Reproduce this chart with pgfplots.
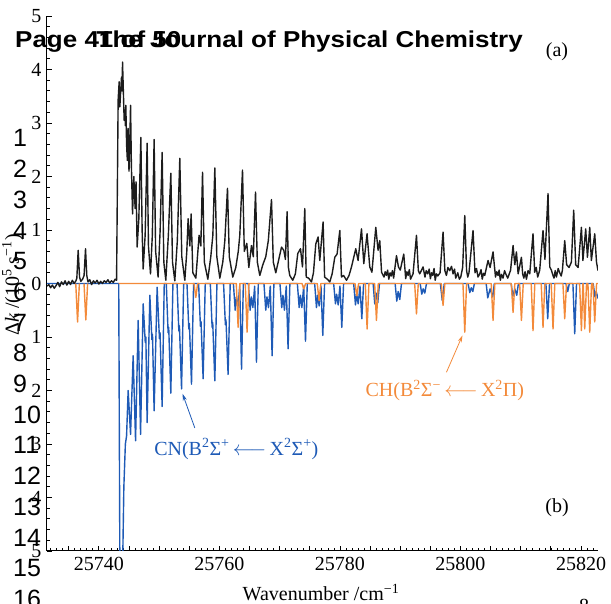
\documentclass[border=0pt]{standalone}
\usepackage{fontspec}
\setmainfont{Liberation Serif}
\newfontfamily\headfont{Liberation Sans}[FakeStretch=1.13]
\newfontfamily\numfont{Liberation Sans}
\usepackage{pgfplots}
\pgfplotsset{compat=1.18}
\usetikzlibrary{arrows.meta}

\definecolor{cnblue}{RGB}{30,90,182}
\definecolor{chorange}{RGB}{243,138,58}
\definecolor{expblack}{RGB}{28,28,28}

\begin{document}
\begin{tikzpicture}[x=1pt,y=1pt]
\useasboundingbox (0,0) rectangle (611,604);
\begin{axis}[
  at={(47pt,53pt)}, anchor=south west,
  scale only axis, width=551pt, height=535pt,
  xmin=25731.4, xmax=25822.8, ymin=-5, ymax=5,
  axis x line*=bottom, axis y line*=left,
  axis line style={line width=1pt, black, -},
  every tick/.style={black, line width=0.8pt},
  tick align=inside,
  scaled x ticks=false,
  xtick={25735,25740,...,25820},
  xticklabels={,25740,,,,25760,,,,25780,,,,25800,,,,25820},
  minor xtick={25732,25733,...,25822},
  ytick={-5,-4,...,5},
  yticklabels={5,4,3,2,1,0,1,2,3,4,5},
  minor y tick num=4,
  major tick length=5pt, minor tick length=3pt,
  tick label style={font=\fontsize{20}{20}\selectfont},
  xticklabel style={yshift=-3pt},
  yticklabel style={xshift=-2pt},
  no markers,
]
% CN(B-X) simulation, drawn downward
\addplot[cnblue, line width=1.4pt, line join=round] coordinates {
(25731.4,0) (25743.3,0) (25743.5,-5.6) (25743.9,-5.6) (25744.15,-3.8) (25744.4,-3.0)
(25744.6,-2.85) (25744.86,-2.0) (25745.26,-2.82) (25745.69,-1.35) (25746.09,-2.94)
(25746.52,-0.69) (25746.92,-2.82) (25747.35,-0.38) (25747.7,-1.1) (25747.8,-1.0)
(25748.01,-2.60) (25748.46,-0.22) (25748.8,-1.05) (25748.9,-0.95) (25749.17,-2.38)
(25749.67,-0.07) (25750.05,-1.03) (25750.15,-0.92) (25750.50,-2.30) (25750.85,0)
(25751.19,0) (25751.49,-0.92) (25751.59,-0.82) (25751.94,-2.05) (25752.29,0)
(25752.97,0) (25753.27,-0.89) (25753.37,-0.79) (25753.72,-1.97) (25754.07,0)
(25754.62,0) (25754.92,-0.85) (25755.02,-0.75) (25755.37,-1.88) (25755.72,0)
(25756.55,0) (25756.85,-0.80) (25756.95,-0.71) (25757.30,-1.78) (25757.65,0)
(25758.49,0) (25758.79,-0.82) (25758.89,-0.73) (25759.24,-1.82) (25759.59,0)
(25760.69,0) (25760.99,-0.77) (25761.09,-0.68) (25761.44,-1.70) (25761.79,0)
(25762.32,0) (25762.62,-0.5) (25762.82,-0.25) (25763.07,-0.45) (25763.37,-0.05) (25763.67,-1.60) (25763.97,0)
(25764.80,0) (25765.10,-0.5) (25765.30,-0.25) (25765.55,-0.45) (25765.85,-0.05) (25766.15,-1.47) (25766.45,0)
(25767.39,0) (25767.69,-0.5) (25767.89,-0.25) (25768.14,-0.45) (25768.44,-0.05) (25768.74,-1.35) (25769.04,0)
(25770.04,0) (25770.34,-0.45) (25770.54,-0.22) (25770.79,-0.5) (25771.09,-0.05) (25771.39,-1.22) (25771.69,0)
(25772.93,0) (25773.23,-0.45) (25773.43,-0.22) (25773.68,-0.45) (25773.98,-0.05) (25774.28,-1.08) (25774.58,0)
(25775.80,0) (25776.10,-0.45) (25776.30,-0.22) (25776.55,-0.42) (25776.85,-0.05) (25777.15,-0.97) (25777.45,0)
(25778.95,0) (25779.25,-0.38) (25779.45,-0.2) (25779.70,-0.40) (25780.00,-0.05) (25780.30,-0.82) (25780.60,0)
(25782.27,0) (25782.57,-0.40) (25782.77,-0.2) (25783.02,-0.38) (25783.32,-0.05) (25783.62,-0.66) (25783.92,0)
(25785.50,0) (25785.77,-0.38) (25786.0,-0.18) (25786.27,-0.36) (25786.55,0)
(25789.15,0) (25789.42,-0.33) (25789.65,-0.15) (25789.92,-0.30) (25790.2,0)
(25793.3,0) (25793.57,-0.2) (25793.8,-0.1) (25794.07,-0.18) (25794.35,0)
(25796.65,0) (25796.97,-0.32) (25797.3,0)
(25801.25,0) (25801.53,-0.17) (25801.78,-0.08) (25802.03,-0.15) (25802.3,0)
(25804.25,0) (25804.51,-0.27) (25804.9,-0.1) (25805.34,-0.25) (25805.6,0)
(25808.4,0) (25808.66,-0.24) (25809.0,-0.1) (25809.32,-0.22) (25809.6,0)
(25814.16,0) (25814.46,-0.66) (25814.76,0)
(25817.5,0) (25817.78,-0.15) (25818.05,0)
(25818.64,0) (25818.94,-0.94) (25819.24,0)
(25822.0,0) (25822.3,-0.25) (25822.5,-0.15) (25822.8,-0.28)
};
% CH(B-X) simulation, drawn downward
\addplot[chorange, line width=1.4pt, line join=round] coordinates {
(25736.17,0) (25736.47,-0.72) (25736.77,0)
};
\addplot[chorange, line width=1.4pt, line join=round] coordinates {
(25737.54,0) (25737.84,-0.68) (25738.14,0)
};
\addplot[chorange, line width=1.4pt, line join=round] coordinates {
(25743.3,0)
(25755.79,0) (25756.09,-0.26) (25756.39,0)
(25762.80,0) (25763.10,-0.82) (25763.40,0)
(25764.29,0) (25764.59,-0.91) (25764.89,0)
(25773.70,0) (25774.00,-0.10) (25774.30,0)
(25776.23,0) (25776.53,-0.32) (25776.83,0)
(25782.49,0) (25782.79,-0.23) (25783.09,0)
(25784.20,0) (25784.50,-0.85) (25784.80,0)
(25785.75,0) (25786.05,-0.69) (25786.35,0)
(25792.39,0) (25792.69,-0.57) (25792.99,0)
(25796.80,0) (25797.10,-0.41) (25797.40,0)
(25800.40,0) (25800.70,-0.91) (25801.00,0)
(25805.09,0) (25805.39,-0.69) (25805.69,0)
(25808.41,0) (25808.71,-0.54) (25809.01,0)
(25809.80,0) (25810.10,-0.69) (25810.40,0)
(25811.72,0) (25812.02,-0.88) (25812.32,0)
(25813.38,0) (25813.68,-0.82) (25813.98,0)
(25815.04,0) (25815.34,-0.85) (25815.64,0)
(25816.98,0) (25817.28,-0.66) (25817.58,0)
(25819.75,0) (25820.05,-0.88) (25820.30,0)
(25820.35,0) (25820.60,-0.85) (25820.90,0)
(25821.13,0) (25821.43,-0.91) (25821.73,0)
(25821.96,0) (25822.26,-0.72) (25822.56,0)
(25822.8,0)
};
% measured spectrum
\addplot[expblack, line width=1.4pt, line join=round] coordinates {
(25731.4,-0.05) (25731.7,-0.02) (25732.0,-0.08) (25732.3,-0.03) (25732.6,-0.09) (25732.9,-0.04)
(25733.2,0.02) (25733.5,-0.06) (25733.8,0.03) (25734.1,-0.02) (25734.4,0.05) (25734.7,-0.03)
(25735.0,0.04) (25735.3,-0.02) (25735.6,0.06) (25735.9,0.00) (25736.2,0.05) (25736.35,0.10)
(25736.57,0.62) (25736.8,0.12) (25737.0,0.04) (25737.3,0.08) (25737.55,0.15) (25737.79,0.65)
(25738.0,0.15) (25738.2,0.03) (25738.5,0.07) (25738.8,-0.02) (25739.1,0.05) (25739.4,0.01)
(25739.7,0.06) (25740.0,-0.01) (25740.3,0.04) (25740.6,0.00) (25740.9,0.05) (25741.2,0.02)
(25741.5,0.07) (25741.8,0.01) (25742.1,0.05) (25742.4,0.02) (25742.7,0.08) (25742.94,0.06)
(25743.20,3.43) (25743.37,3.77) (25743.48,3.30) (25743.60,3.55) (25743.76,3.86) (25743.85,3.60)
(25743.93,4.14) (25744.03,3.74) (25744.20,3.05) (25744.31,3.24) (25744.40,2.95) (25744.48,3.33)
(25744.60,2.60) (25744.73,2.30) (25744.85,2.90) (25745.00,2.10) (25745.09,2.40) (25745.26,3.33)
(25745.40,2.20) (25745.59,1.30) (25745.80,2.00) (25746.02,1.40) (25746.17,1.90) (25746.35,0.68)
(25746.63,1.20) (25746.97,2.73) (25747.18,1.00) (25747.35,0.27) (25747.68,0.90) (25748.01,2.62)
(25748.23,0.70) (25748.57,0.18) (25748.87,0.90) (25749.17,2.69) (25749.42,0.60) (25749.83,0.12)
(25750.17,1.00) (25750.50,2.45) (25750.78,0.40) (25751.11,0.06) (25751.53,0.90) (25751.94,2.06)
(25752.22,0.40) (25752.60,0.05) (25753.02,0.80) (25753.43,2.34) (25753.76,0.50) (25754.26,0.06)
(25754.59,0.60) (25754.81,1.21) (25755.09,0.70) (25755.31,1.30) (25755.59,0.20) (25756.09,0.10)
(25756.63,0.90) (25756.92,0.70) (25757.20,2.08) (25757.50,0.40) (25758.08,0.08) (25758.57,0.50)
(25758.91,0.90) (25759.24,2.16) (25759.57,0.50) (25760.07,0.10) (25760.56,0.40) (25760.90,0.80)
(25761.34,1.78) (25761.64,0.50) (25762.22,0.12) (25762.72,0.30) (25763.13,0.60) (25763.38,0.90)
(25763.83,2.12) (25764.13,0.60) (25764.54,0.75) (25764.88,0.30) (25765.32,0.71) (25765.62,0.50)
(25765.99,1.71) (25766.29,0.40) (25766.70,0.15) (25767.20,0.35) (25767.69,0.50) (25768.11,0.80)
(25768.64,1.57) (25768.94,0.40) (25769.35,0.20) (25769.85,0.45) (25770.30,0.68) (25770.68,0.62)
(25770.95,0.45) (25771.23,1.34) (25771.45,0.30) (25771.67,0.15) (25772.17,0.06) (25772.6,0.18)
(25773.00,0.56) (25773.45,0.65) (25773.78,0.31) (25774.16,1.40) (25774.40,0.12) (25774.8,0.10)
(25775.27,0.03) (25775.6,0.20) (25775.99,0.74) (25776.37,0.87) (25776.65,0.43) (25777.20,1.15)
(25777.45,0.12) (25777.9,0.08) (25778.31,0.03) (25778.7,0.18) (25779.14,0.49) (25779.52,0.55)
(25779.97,0.99) (25780.25,0.12) (25780.6,0.15) (25781.08,0.06) (25781.5,0.15) (25781.91,0.31)
(25782.62,0.65) (25783.0,0.43) (25783.57,1.02) (25783.95,0.37) (25784.49,0.93) (25784.94,0.31)
(25785.3,0.21) (25785.94,1.05) (25786.32,0.62) (25786.60,0.80) (25786.9,0.21) (25787.3,0.12)
(25787.5,0.22) (25787.71,0.15) (25787.9,0.25) (25788.1,0.08) (25788.3,0.20) (25788.5,0.14)
(25788.7,0.24) (25788.9,0.10) (25789.37,0.52) (25789.7,0.31) (25790.0,0.25) (25790.58,0.55)
(25790.9,0.09) (25791.1,0.22) (25791.3,0.15) (25791.5,0.26) (25791.7,0.08) (25792.12,0.18)
(25792.69,0.90) (25793.0,0.24) (25793.23,0.18) (25793.78,0.31) (25794.1,0.12) (25794.3,0.24)
(25794.56,0.18) (25794.8,0.27) (25795.0,0.09) (25795.2,0.20) (25795.39,0.15) (25795.6,0.28)
(25795.8,0.06) (25796.0,0.18) (25796.22,0.14) (25796.6,0.20) (25797.10,0.96) (25797.4,0.24)
(25797.66,0.15) (25797.9,0.30) (25798.21,0.24) (25798.5,0.32) (25798.76,0.18) (25799.0,0.27)
(25799.2,0.10) (25799.54,0.20) (25799.8,0.08) (25800.03,0.12) (25800.35,0.30) (25800.70,1.27)
(25801.0,0.24) (25801.2,0.12) (25801.4,0.20) (25802.07,0.99) (25802.4,0.20) (25802.65,0.28)
(25802.9,0.12) (25803.18,0.18) (25803.4,0.26) (25803.6,0.08) (25803.8,0.19) (25804.01,0.15)
(25804.56,0.43) (25804.9,0.30) (25805.39,0.59) (25805.8,0.12) (25806.0,0.22) (25806.22,0.15)
(25806.4,0.25) (25806.6,0.06) (25806.8,0.17) (25807.05,0.10) (25807.3,0.24) (25807.5,0.18)
(25807.83,0.10) (25808.3,0.25) (25808.71,0.71) (25809.0,0.35) (25809.27,0.59) (25809.55,0.18)
(25810.10,0.49) (25810.3,0.18) (25810.5,0.10) (25810.7,0.22) (25810.93,0.08) (25811.2,0.24)
(25811.48,0.18) (25812.02,0.93) (25812.3,0.21) (25812.55,0.30) (25812.8,0.12) (25813.13,0.25)
(25813.68,0.99) (25814.0,0.45) (25814.51,1.68) (25814.8,0.31) (25815.07,0.25) (25815.3,0.16)
(25815.5,0.10) (25815.7,0.24) (25815.90,0.12) (25816.2,0.28) (25816.45,0.20) (25816.7,0.14)
(25816.9,0.25) (25817.28,0.80) (25817.6,0.35) (25818.0,0.30) (25818.39,0.40) (25818.77,1.37)
(25819.1,0.35) (25819.5,0.30) (25820.05,1.05) (25820.3,0.43) (25820.76,1.02) (25821.05,0.49)
(25821.43,1.05) (25821.7,0.43) (25822.26,0.93) (25822.55,0.40) (25822.8,0.24)
};
% band assignments
\draw[cnblue, line width=0.8pt, -{Stealth[length=7pt,width=4pt]}]
  (axis cs:25755.92,-2.70) -- (axis cs:25753.88,-2.06);
\draw[chorange, line width=0.8pt, -{Stealth[length=7pt,width=4pt]}]
  (axis cs:25797.66,-1.66) -- (axis cs:25800.32,-0.97);
\node[text=cnblue, font=\fontsize{20}{20}\selectfont] at (axis cs:25762.8,-3.09)
  {CN(B\textsuperscript{2}Σ\textsuperscript{+}\,$\longleftarrow$\,X\textsuperscript{2}Σ\textsuperscript{+})};
\node[text=chorange, font=\fontsize{20}{20}\selectfont] at (axis cs:25797.4,-2.0)
  {CH(B\textsuperscript{2}Σ\textsuperscript{−}\,$\longleftarrow$\,X\textsuperscript{2}Π)};
\end{axis}

% axis titles
\node[rotate=90, anchor=base, font=\fontsize{20}{20}\selectfont] at (19,319)
  {Δ\textit{k} /(10\textsuperscript{5} s\textsuperscript{−1})};
\node[anchor=base, font=\fontsize{20}{20}\selectfont] at (321,3)
  {Wavenumber /cm\textsuperscript{−1}};
\node[font=\fontsize{20}{20}\selectfont] at (557,552.5) {(a)};
\node[font=\fontsize{20}{20}\selectfont] at (557,96) {(b)};

% page furniture of the manuscript
\node[anchor=base west, inner sep=0, font=\headfont\bfseries\fontsize{23}{23}\selectfont] at (15,556) {Page 41 of 50};
\node[anchor=base east, inner sep=0, font=\headfont\bfseries\fontsize{23}{23}\selectfont] at (523,556) {The Journal of Physical Chemistry};
\foreach \k in {1,...,16}
  \node[anchor=base west, inner sep=0, font=\numfont\fontsize{25}{25}\selectfont] at (13,{457-(\k-1)*30.7}) {\k};
\node[anchor=base, font=\fontsize{20}{20}\selectfont] at (584,-9) {8};
\end{tikzpicture}
\end{document}
